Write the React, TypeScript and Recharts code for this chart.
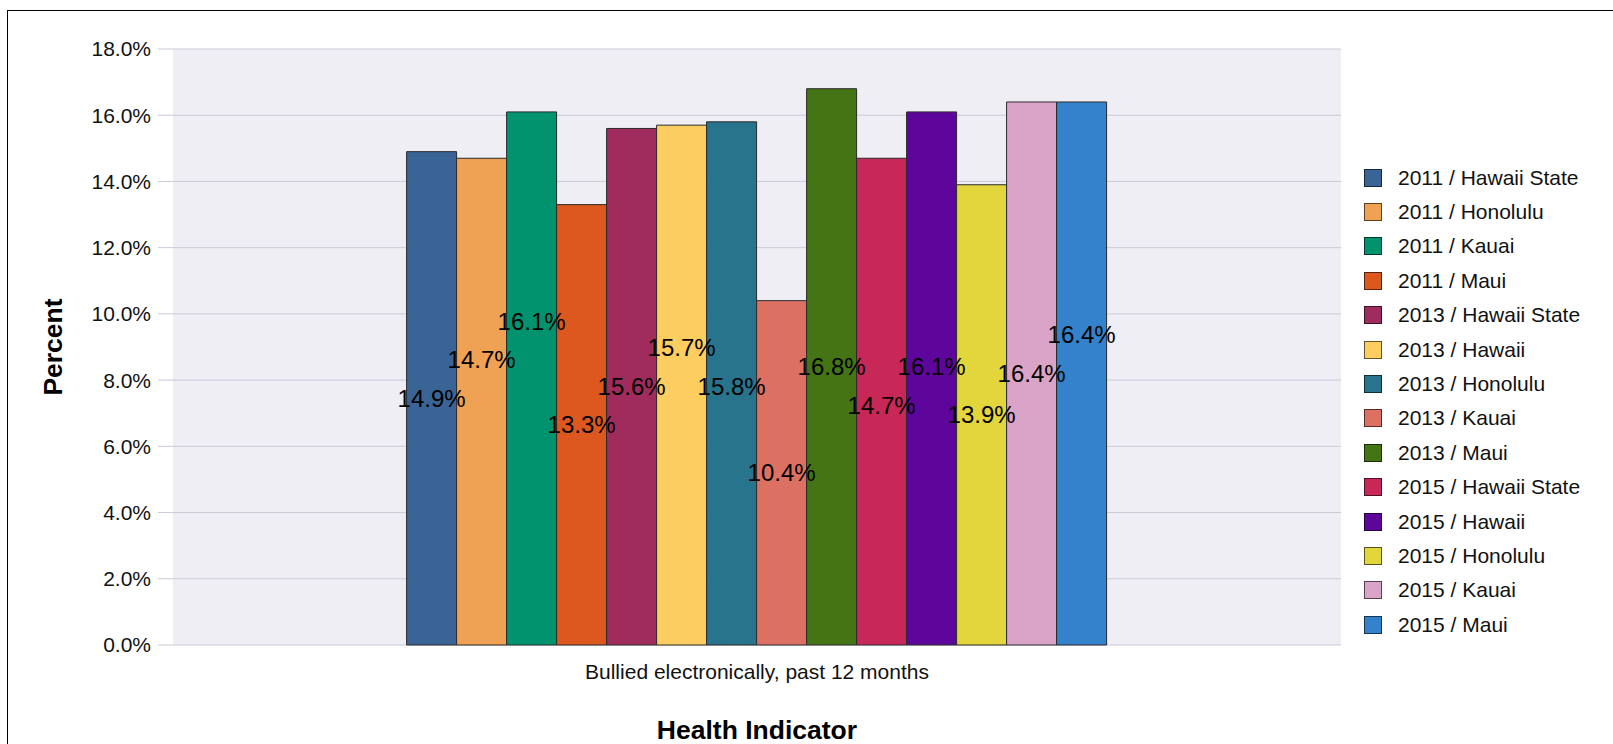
import React from "react";
import { BarChart, Bar, XAxis, YAxis, CartesianGrid, Legend, LabelList } from "recharts";

const categories = ["Bullied electronically, past 12 months"];
const seriesNames = [
  "2011 / Hawaii State",
  "2011 / Honolulu",
  "2011 / Kauai",
  "2011 / Maui",
  "2013 / Hawaii State",
  "2013 / Hawaii",
  "2013 / Honolulu",
  "2013 / Kauai",
  "2013 / Maui",
  "2015 / Hawaii State",
  "2015 / Hawaii",
  "2015 / Honolulu",
  "2015 / Kauai",
  "2015 / Maui",
];
const seriesValues = [14.9, 14.7, 16.1, 13.3, 15.6, 15.7, 15.8, 10.4, 16.8, 14.7, 16.1, 13.9, 16.4, 16.4];
const seriesColors = [
  "#3A6496",
  "#EFA254",
  "#00936E",
  "#DC581E",
  "#A02C5E",
  "#FDCD60",
  "#27748C",
  "#DC7063",
  "#457414",
  "#C82858",
  "#5E069B",
  "#E2D63C",
  "#DAA4C9",
  "#3482CC",
];
const yTicks = [0, 2, 4, 6, 8, 10, 12, 14, 16, 18];

const data = categories.map((c) => {
  const row: Record<string, string | number> = { category: c };
  seriesValues.forEach((v, i) => {
    row["s" + i] = v;
  });
  return row;
});

const FONT = "'Liberation Sans', Arial, Helvetica, sans-serif";
const LABEL_SEP = 38.5; // minimum vertical separation between neighbouring labels (px)

// Greedy collision avoidance: labels sit at their bar's middle unless they
// collide with the previous label, in which case they are pushed up or down.
function labelCenters(baseY: number, pxPerUnit: number): number[] {
  const out: number[] = [];
  seriesValues.forEach((v, j) => {
    const nat = baseY - (v * pxPerUnit) / 2;
    if (j === 0) {
      out.push(nat);
      return;
    }
    const prev = out[j - 1];
    const d = nat - prev;
    if (Math.abs(d) < LABEL_SEP) {
      out.push(d > LABEL_SEP / 2 ? prev + LABEL_SEP : prev - LABEL_SEP);
    } else {
      out.push(nat);
    }
  });
  return out;
}

const makeLabel = (seriesIndex: number) => (props: any) => {
  const { x, y, width, height, value } = props;
  const v = Number(value);
  const h = Number(height);
  const baseY = Number(y) + h;
  const pxPerUnit = v !== 0 ? h / v : 0;
  const centers = labelCenters(baseY, pxPerUnit);
  return (
    <text
      x={Number(x) + Number(width) / 2}
      y={centers[seriesIndex]}
      textAnchor="middle"
      dominantBaseline="central"
      style={{ fontSize: 24, fill: "#000", fontFamily: FONT }}
    >
      {v.toFixed(1) + "%"}
    </text>
  );
};

const LegendContent = (props: any) => {
  const payload = [...(props.payload || [])].sort(
    (a: any, b: any) => seriesNames.indexOf(a.value) - seriesNames.indexOf(b.value)
  );
  return (
    <div style={{ fontFamily: FONT }}>
      {payload.map((p: any, i: number) => (
        <div key={i} style={{ height: 34.4, display: "flex", alignItems: "center" }}>
          <div
            style={{
              width: 16,
              height: 16,
              background: p.color,
              border: "1px solid rgba(0,0,0,0.6)",
              marginRight: 16,
              flex: "none",
            }}
          />
          <span style={{ fontSize: 21, color: "#111", whiteSpace: "nowrap" }}>{p.value}</span>
        </div>
      ))}
    </div>
  );
};

export default function App() {
  return (
    <div
      style={{
        position: "fixed",
        left: 0,
        top: 0,
        width: 1613,
        height: 744,
        overflow: "hidden",
        background: "#fff",
      }}
    >
      <div
        style={{
          position: "absolute",
          left: 7,
          top: 10,
          width: 1700,
          height: 800,
          borderTop: "1px solid #000",
          borderLeft: "1px solid #000",
        }}
      />
      <div style={{ position: "absolute", left: 0, top: 0 }}>
        <BarChart
          width={1613}
          height={744}
          data={data}
          margin={{ top: 49, right: 272, left: 0, bottom: 0 }}
          barCategoryGap="20%"
          barGap={0}
          style={{ fontFamily: FONT }}
        >
          <CartesianGrid vertical={false} stroke="#CACAD8" fill="#EFEEF4" fillOpacity={1} />
          <XAxis
            dataKey="category"
            height={99}
            axisLine={false}
            tickLine={false}
            tickSize={10}
            tickMargin={9}
            tick={{ fontSize: 21, fill: "#111", fontFamily: FONT }}
            label={{
              value: "Health Indicator",
              position: "center",
              dy: 35,
              style: { fontSize: 26.5, fontWeight: "bold", fill: "#000", fontFamily: FONT },
            }}
          />
          <YAxis
            width={173}
            domain={[0, 18]}
            ticks={yTicks}
            interval={0}
            axisLine={false}
            tickLine={{ stroke: "#CACAD8" }}
            tickSize={15}
            tickMargin={7}
            tickFormatter={(v: number) => v.toFixed(1) + "%"}
            tick={{ fontSize: 21, fill: "#111", fontFamily: FONT }}
            label={{
              value: "Percent",
              angle: -90,
              position: "center",
              dx: -34,
              style: { fontSize: 26.5, fontWeight: "bold", fill: "#000", fontFamily: FONT, textAnchor: "middle" },
            }}
          />
          <Legend
            layout="vertical"
            align="center"
            verticalAlign="middle"
            content={<LegendContent />}
            wrapperStyle={{ left: 1364, top: 160.5, width: 240, height: 490 }}
          />
          {seriesNames.map((name, i) => (
            <Bar
              key={name}
              dataKey={"s" + i}
              name={name}
              fill={seriesColors[i]}
              stroke="#2a2a2a"
              strokeWidth={1}
              isAnimationActive={false}
            >
              <LabelList dataKey={"s" + i} content={makeLabel(i)} />
            </Bar>
          ))}
        </BarChart>
      </div>
    </div>
  );
}
